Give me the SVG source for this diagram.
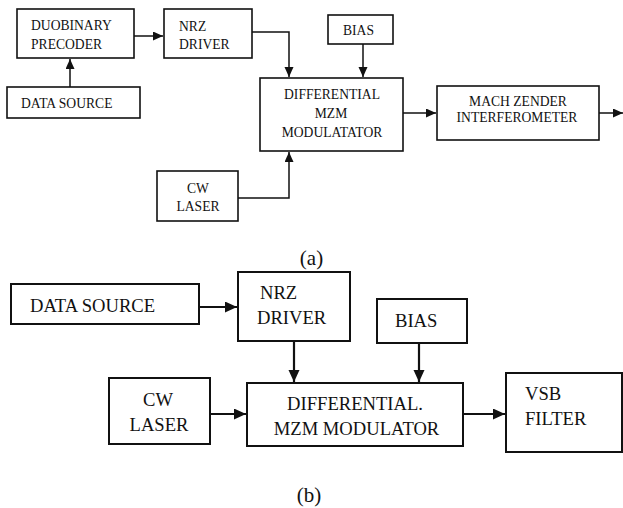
<svg xmlns="http://www.w3.org/2000/svg" width="623" height="508" viewBox="0 0 623 508">
<style>
.box{fill:#fff;stroke:#111;stroke-width:1.6}
.box2{fill:#fff;stroke:#111;stroke-width:2}
.t{font-family:"Liberation Serif","Times New Roman",serif;font-size:13.6px;fill:#111}
.tb{font-family:"Liberation Serif","Times New Roman",serif;font-size:18.6px;fill:#111}
.c{text-anchor:middle}
.ln{fill:none;stroke:#111;stroke-width:1.5}
.ln2{fill:none;stroke:#111;stroke-width:2.2}
.cap{font-family:"Liberation Serif","Times New Roman",serif;font-size:21px;fill:#111;text-anchor:middle}
</style>
<defs>
<marker id="ah" markerUnits="userSpaceOnUse" markerWidth="12" markerHeight="10" refX="10" refY="4.5" orient="auto">
<path d="M0,0 L10,4.5 L0,9 Z" fill="#111"/>
</marker>
<marker id="ah2" markerUnits="userSpaceOnUse" markerWidth="14" markerHeight="12" refX="12" refY="5.5" orient="auto">
<path d="M0,0 L12,5.5 L0,11 Z" fill="#111"/>
</marker>
</defs>
<rect width="623" height="508" fill="#fff"/>
<g id="connectors">
<path class="ln" d="M134,36 H163" marker-end="url(#ah)"/>
<path class="ln" d="M70,87 V59" marker-end="url(#ah)"/>
<path class="ln" d="M252,32 H289 V77" marker-end="url(#ah)"/>
<path class="ln" d="M363,44 V77" marker-end="url(#ah)"/>
<path class="ln" d="M238,198 H289 V152" marker-end="url(#ah)"/>
<path class="ln" d="M403,113 H436" marker-end="url(#ah)"/>
<path class="ln" d="M599,113 H623" marker-end="url(#ah)"/>
<path class="ln2" d="M199,307 H237" marker-end="url(#ah2)"/>
<path class="ln2" d="M294,341 V382" marker-end="url(#ah2)"/>
<path class="ln2" d="M419,343 V382" marker-end="url(#ah2)"/>
<path class="ln2" d="M210,414 H246" marker-end="url(#ah2)"/>
<path class="ln2" d="M463,414 H505" marker-end="url(#ah2)"/>
</g>
<g id="a-duobinary">
<rect class="box" x="17" y="9" width="117" height="49"/>
<text class="t" x="31" y="30">DUOBINARY</text>
<text class="t" x="31" y="48.5">PRECODER</text>
</g>
<g id="a-nrz">
<rect class="box" x="164" y="9" width="88" height="49"/>
<text class="t" x="179" y="30.5">NRZ</text>
<text class="t" x="179" y="49">DRIVER</text>
</g>
<g id="a-datasource">
<rect class="box" x="7" y="87" width="133" height="31"/>
<text class="t" x="21" y="107.5">DATA SOURCE</text>
</g>
<g id="a-bias">
<rect class="box" x="328" y="15" width="65" height="29"/>
<text class="t c" x="358.5" y="35">BIAS</text>
</g>
<g id="a-diff">
<rect class="box" x="260" y="78" width="143" height="73"/>
<text class="t c" x="332" y="99">DIFFERENTIAL</text>
<text class="t c" x="331" y="118">MZM</text>
<text class="t c" x="332" y="137">MODULATATOR</text>
</g>
<g id="a-cw">
<rect class="box" x="157" y="171" width="81" height="50"/>
<text class="t c" x="198" y="193">CW</text>
<text class="t c" x="198" y="211">LASER</text>
</g>
<g id="a-mach">
<rect class="box" x="437" y="86" width="162" height="54"/>
<text class="t c" x="518" y="106">MACH ZENDER</text>
<text class="t c" x="517" y="122">INTERFEROMETER</text>
</g>
<text class="cap" x="311.5" y="265">(a)</text>
<g id="b-datasource">
<rect class="box2" x="11" y="284" width="188" height="40"/>
<text class="tb" x="30" y="312">DATA SOURCE</text>
</g>
<g id="b-nrz">
<rect class="box2" x="238" y="272" width="112" height="69"/>
<text class="tb" x="260" y="299">NRZ</text>
<text class="tb" x="257" y="324">DRIVER</text>
</g>
<g id="b-bias">
<rect class="box2" x="377" y="299" width="90" height="44"/>
<text class="tb" x="395" y="327">BIAS</text>
</g>
<g id="b-cw">
<rect class="box2" x="109" y="378" width="101" height="66"/>
<text class="tb c" x="158" y="406">CW</text>
<text class="tb c" x="159" y="431">LASER</text>
</g>
<g id="b-diff">
<rect class="box2" x="247" y="383" width="216" height="63"/>
<text class="tb c" x="355" y="410">DIFFERENTIAL.</text>
<text class="tb c" x="356.5" y="435">MZM MODULATOR</text>
</g>
<g id="b-vsb">
<rect class="box2" x="506" y="373" width="116" height="79"/>
<text class="tb" x="525" y="400">VSB</text>
<text class="tb" x="525" y="425">FILTER</text>
</g>
<text class="cap" x="309" y="502">(b)</text>
</svg>
